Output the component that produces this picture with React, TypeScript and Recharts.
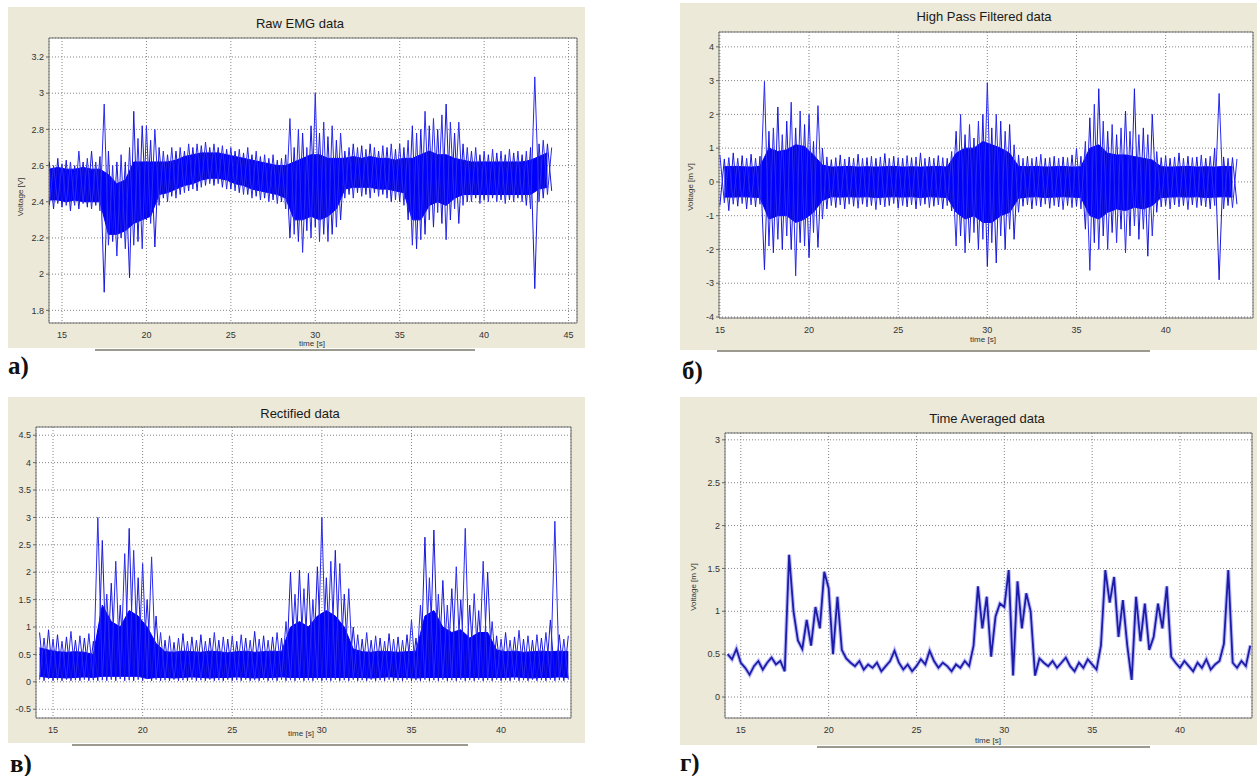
import React from "react";
import { ComposedChart, Area, Line, XAxis, YAxis, CartesianGrid, ReferenceArea } from "recharts";

// sample times (s), 0.25 s apart; every line below covers 2 s
const times = [
  14.25, 14.5, 14.75, 15, 15.25, 15.5, 15.75, 16,
  16.25, 16.5, 16.75, 17, 17.25, 17.5, 17.75, 18,
  18.25, 18.5, 18.75, 19, 19.25, 19.5, 19.75, 20,
  20.25, 20.5, 20.75, 21, 21.25, 21.5, 21.75, 22,
  22.25, 22.5, 22.75, 23, 23.25, 23.5, 23.75, 24,
  24.25, 24.5, 24.75, 25, 25.25, 25.5, 25.75, 26,
  26.25, 26.5, 26.75, 27, 27.25, 27.5, 27.75, 28,
  28.25, 28.5, 28.75, 29, 29.25, 29.5, 29.75, 30,
  30.25, 30.5, 30.75, 31, 31.25, 31.5, 31.75, 32,
  32.25, 32.5, 32.75, 33, 33.25, 33.5, 33.75, 34,
  34.25, 34.5, 34.75, 35, 35.25, 35.5, 35.75, 36,
  36.25, 36.5, 36.75, 37, 37.25, 37.5, 37.75, 38,
  38.25, 38.5, 38.75, 39, 39.25, 39.5, 39.75, 40,
  40.25, 40.5, 40.75, 41, 41.25, 41.5, 41.75, 42,
  42.25, 42.5, 42.75, 43, 43.25, 43.5, 43.75, 44,
];

// а) raw EMG [V]: min / max of each sample, dense core every 0.5 s
const rawLo = [
  2.38, 2.36, 2.39, 2.37, 2.38, 2.35, 2.38, 2.36,
  2.39, 2.37, 2.36, 2.38, 2.35, 1.9, 2.16, 2.18,
  2.1, 2.2, 2.14, 1.98, 2.16, 2.18, 2.14, 2.3,
  2.28, 2.15, 2.38, 2.42, 2.4, 2.43, 2.42, 2.44,
  2.45, 2.46, 2.47, 2.46, 2.48, 2.49, 2.5, 2.49,
  2.5, 2.48, 2.47, 2.47, 2.46, 2.45, 2.44, 2.44,
  2.42, 2.43, 2.41, 2.42, 2.4, 2.41, 2.39, 2.4,
  2.36, 2.2, 2.22, 2.18, 2.12, 2.24, 2.2, 2.26,
  2.18, 2.22, 2.18, 2.22, 2.26, 2.3, 2.42, 2.44,
  2.42, 2.45, 2.43, 2.44, 2.42, 2.45, 2.43, 2.44,
  2.42, 2.4, 2.41, 2.4, 2.38, 2.3, 2.16, 2.14,
  2.19, 2.22, 2.3, 2.26, 2.34, 2.28, 2.19, 2.3,
  2.36, 2.28, 2.38, 2.4, 2.4, 2.42, 2.39, 2.41,
  2.4, 2.42, 2.4, 2.41, 2.39, 2.41, 2.4, 2.42,
  2.4, 2.38, 2.36, 1.92, 2.4, 2.42, 2.44, 2.46,
];
const rawHi = [
  2.62, 2.6, 2.64, 2.61, 2.63, 2.62, 2.6, 2.68,
  2.62, 2.64, 2.68, 2.62, 2.65, 2.94, 2.68, 2.6,
  2.62, 2.66, 2.62, 2.7, 2.9, 2.75, 2.82, 2.82,
  2.74, 2.8, 2.7, 2.68, 2.66, 2.7, 2.68, 2.7,
  2.68, 2.72, 2.7, 2.72, 2.71, 2.73, 2.7, 2.72,
  2.7, 2.71, 2.69, 2.7, 2.68, 2.69, 2.67, 2.7,
  2.66, 2.68, 2.65, 2.66, 2.64, 2.66, 2.63, 2.64,
  2.66, 2.86, 2.7, 2.8, 2.78, 2.7, 2.82, 3.0,
  2.78, 2.84, 2.76, 2.82, 2.74, 2.78, 2.68, 2.7,
  2.72, 2.7, 2.71, 2.69, 2.72, 2.7, 2.68, 2.71,
  2.7, 2.72, 2.69, 2.72, 2.7, 2.74, 2.82, 2.78,
  2.8, 2.9, 2.82, 2.86, 2.8, 2.88, 2.94, 2.84,
  2.78, 2.84, 2.72, 2.7, 2.68, 2.7, 2.66, 2.68,
  2.66, 2.69, 2.67, 2.68, 2.66, 2.69, 2.67, 2.68,
  2.66, 2.68, 2.7, 3.09, 2.72, 2.74, 2.72, 2.7,
];
const rawCoreLo = [
  2.41, 2.41, 2.4, 2.41, 2.4, 2.4, 2.4, 2.22,
  2.22, 2.24, 2.28, 2.3, 2.32, 2.44, 2.45, 2.47,
  2.49, 2.5, 2.52, 2.53, 2.53, 2.52, 2.5, 2.49,
  2.47, 2.46, 2.45, 2.44, 2.42, 2.3, 2.3, 2.32,
  2.3, 2.32, 2.36, 2.47, 2.48, 2.48, 2.48, 2.47,
  2.47, 2.46, 2.45, 2.3, 2.3, 2.38, 2.4, 2.38,
  2.42, 2.44, 2.44, 2.44, 2.44, 2.44, 2.44, 2.44,
  2.44, 2.44, 2.47, 2.48,
];
const rawCoreHi = [
  2.58, 2.59, 2.58, 2.58, 2.59, 2.58, 2.58, 2.55,
  2.5, 2.52, 2.62, 2.62, 2.62, 2.62, 2.62, 2.63,
  2.65, 2.66, 2.67, 2.67, 2.67, 2.66, 2.65, 2.64,
  2.63, 2.62, 2.61, 2.6, 2.6, 2.62, 2.64, 2.66,
  2.66, 2.64, 2.64, 2.64, 2.65, 2.64, 2.65, 2.64,
  2.64, 2.63, 2.64, 2.64, 2.66, 2.68, 2.66, 2.66,
  2.64, 2.63, 2.62, 2.62, 2.62, 2.62, 2.62, 2.62,
  2.62, 2.63, 2.65, 2.67,
];

// б) high pass filtered [mV]
const hpLo = [
  null, null, null, -0.7, -0.62, -0.85, -0.66, -0.72,
  -0.64, -0.8, -0.68, -0.74, -0.66, -2.6, -1.9, -2.1,
  -1.7, -2.0, -1.6, -2.0, -2.78, -1.8, -1.9, -2.24,
  -1.5, -1.94, -1.1, -0.8, -0.7, -0.76, -0.68, -0.8,
  -0.66, -0.72, -0.78, -0.66, -0.74, -0.7, -0.82, -0.68,
  -0.74, -0.7, -0.64, -0.78, -0.7, -0.74, -0.68, -0.8,
  -0.7, -0.66, -0.76, -0.72, -0.68, -0.8, -0.7, -0.86,
  -1.9, -1.6, -2.1, -1.8, -1.5, -2.0, -1.7, -2.5,
  -1.8, -2.4, -1.6, -2.0, -1.4, -1.7, -0.9, -0.72,
  -0.68, -0.8, -0.7, -0.74, -0.66, -0.78, -0.7, -0.74,
  -0.82, -0.7, -0.76, -0.72, -0.8, -1.4, -2.62, -1.8,
  -2.0, -1.6, -2.0, -1.5, -1.8, -1.4, -2.1, -1.6,
  -1.3, -1.7, -1.4, -2.2, -1.6, -0.9, -0.74, -0.7,
  -0.8, -0.68, -0.74, -0.7, -0.82, -0.68, -0.76, -0.7,
  -0.74, -0.8, -0.7, -2.9, -0.8, -0.7, -0.76, -0.66,
];
const hpHi = [
  null, null, null, 0.8, 0.68, 0.72, 0.86, 0.7,
  0.78, 0.7, 0.82, 0.7, 0.76, 2.98, 1.5, 1.6,
  2.22, 1.4, 1.8, 2.36, 1.6, 2.1, 1.7, 2.0,
  1.2, 2.26, 1.0, 0.74, 0.66, 0.72, 0.8, 0.68,
  0.74, 0.7, 0.82, 0.7, 0.72, 0.76, 0.7, 0.74,
  0.84, 0.7, 0.76, 0.72, 0.7, 0.78, 0.72, 0.74,
  0.86, 0.7, 0.74, 0.7, 0.78, 0.72, 0.7, 0.9,
  1.5, 2.0, 1.4, 1.7, 1.3, 1.8, 2.0, 2.94,
  1.6, 2.0, 1.8, 1.5, 1.7, 1.1, 0.8, 0.7,
  0.76, 0.7, 0.74, 0.82, 0.7, 0.72, 0.76, 0.7,
  0.74, 0.72, 0.8, 1.0, 0.76, 1.2, 1.9, 2.3,
  2.76, 1.8, 1.5, 1.7, 1.4, 1.6, 2.1, 1.5,
  2.76, 1.4, 1.6, 1.4, 2.0, 0.9, 0.72, 0.78,
  0.7, 0.74, 0.86, 0.7, 0.76, 0.72, 0.74, 0.8,
  0.7, 0.76, 1.0, 2.62, 0.74, 0.7, 0.72, 0.68,
];
const hpCoreLo = [
  null, null, -0.45, -0.45, -0.44, -0.45, -0.46, -1.1,
  -1.0, -1.0, -1.2, -1.1, -0.9, -0.55, -0.44, -0.45,
  -0.44, -0.45, -0.44, -0.46, -0.45, -0.44, -0.45, -0.44,
  -0.46, -0.44, -0.45, -0.46, -0.9, -1.1, -1.0, -1.2,
  -1.2, -1.0, -0.9, -0.48, -0.45, -0.44, -0.46, -0.45,
  -0.44, -0.45, -0.46, -1.0, -1.1, -0.9, -0.8, -0.85,
  -0.75, -0.8, -0.7, -0.46, -0.45, -0.44, -0.45, -0.44,
  -0.46, -0.45, -0.44, -0.45,
];
const hpCoreHi = [
  null, null, 0.45, 0.46, 0.45, 0.44, 0.46, 1.0,
  0.9, 0.95, 1.1, 1.05, 0.8, 0.5, 0.44, 0.45,
  0.46, 0.44, 0.45, 0.44, 0.45, 0.46, 0.44, 0.45,
  0.44, 0.45, 0.46, 0.44, 0.85, 1.0, 1.0, 1.2,
  1.1, 1.0, 0.85, 0.46, 0.45, 0.46, 0.44, 0.45,
  0.46, 0.44, 0.45, 1.0, 1.1, 0.85, 0.8, 0.8,
  0.75, 0.7, 0.65, 0.45, 0.44, 0.45, 0.46, 0.44,
  0.45, 0.44, 0.46, 0.45,
];

// в) rectified [mV]
const rectLo = [
  0.04, 0.02, 0.05, 0.02, 0.03, 0.02, 0.04, 0.02,
  0.03, 0.02, 0.04, 0.02, 0.03, 0.02, 0.03, 0.02,
  0.04, 0.02, 0.05, 0.02, 0.03, 0.02, 0.04, 0.02,
  0.05, 0.02, 0.04, 0.02, 0.03, 0.02, 0.04, 0.02,
  0.03, 0.02, 0.04, 0.02, 0.03, 0.02, 0.04, 0.02,
  0.03, 0.02, 0.04, 0.02, 0.03, 0.02, 0.04, 0.02,
  0.03, 0.02, 0.04, 0.02, 0.03, 0.02, 0.04, 0.02,
  0.03, 0.02, 0.04, 0.02, 0.03, 0.02, 0.04, 0.02,
  0.03, 0.02, 0.04, 0.02, 0.03, 0.02, 0.04, 0.02,
  0.03, 0.02, 0.04, 0.02, 0.03, 0.02, 0.04, 0.02,
  0.03, 0.02, 0.04, 0.02, 0.03, 0.02, 0.04, 0.02,
  0.03, 0.02, 0.04, 0.02, 0.03, 0.02, 0.04, 0.02,
  0.03, 0.02, 0.04, 0.02, 0.03, 0.02, 0.04, 0.02,
  0.03, 0.02, 0.04, 0.02, 0.03, 0.02, 0.04, 0.02,
  0.03, 0.02, 0.04, 0.02, 0.03, 0.02, 0.04, null,
];
const rectHi = [
  0.9, 0.8, 0.95, 0.78, 0.86, 0.74, 0.82, 0.92,
  0.76, 0.84, 0.8, 0.88, 0.74, 3.0, 2.58, 1.6,
  1.8, 2.2, 1.4, 2.34, 2.8, 2.4, 1.9, 2.16,
  1.5, 2.28, 1.2, 0.9, 0.76, 0.84, 0.72, 0.8,
  0.88, 0.74, 0.82, 0.76, 0.86, 0.74, 0.8, 0.9,
  0.76, 0.82, 0.78, 0.84, 0.74, 0.86, 0.8, 0.76,
  0.92, 0.78, 0.84, 0.76, 0.82, 0.9, 0.8, 1.1,
  2.0, 1.6, 2.04, 1.7, 1.98, 1.5, 2.1, 3.0,
  1.9, 2.2, 2.4, 2.16, 1.6, 1.7, 1.0, 0.86,
  0.78, 0.9, 0.76, 0.84, 0.8, 0.74, 0.88, 0.78,
  0.82, 0.76, 0.86, 1.13, 0.8, 1.4, 2.64, 1.9,
  2.77, 1.6, 1.85, 1.4, 1.7, 2.1, 1.5, 2.8,
  1.4, 1.61, 1.3, 2.2, 2.0, 1.1, 0.84, 0.78,
  0.9, 0.76, 0.82, 0.94, 0.78, 0.84, 0.76, 0.86,
  0.8, 0.9, 1.13, 2.93, 0.86, 0.78, 0.84, null,
];
const rectCoreLo = [
  0.1, 0.08, 0.08, 0.07, 0.08, 0.09, 0.08, 0.1,
  0.1, 0.1, 0.1, 0.1, 0.06, 0.08, 0.08, 0.07,
  0.08, 0.09, 0.08, 0.07, 0.08, 0.08, 0.09, 0.08,
  0.07, 0.08, 0.08, 0.09, 0.08, 0.08, 0.08, 0.08,
  0.08, 0.08, 0.08, 0.08, 0.08, 0.07, 0.08, 0.09,
  0.08, 0.08, 0.07, 0.08, 0.08, 0.08, 0.08, 0.08,
  0.08, 0.08, 0.08, 0.08, 0.08, 0.09, 0.08, 0.07,
  0.08, 0.08, 0.09, 0.08,
];
const rectCoreHi = [
  0.62, 0.58, 0.55, 0.54, 0.55, 0.54, 0.5, 1.4,
  1.1, 1.0, 1.3, 1.2, 1.0, 0.7, 0.55, 0.54,
  0.56, 0.55, 0.54, 0.56, 0.55, 0.53, 0.55, 0.56,
  0.54, 0.55, 0.56, 0.55, 1.0, 1.1, 1.0, 1.2,
  1.3, 1.2, 1.0, 0.6, 0.55, 0.54, 0.56, 0.55,
  0.54, 0.55, 0.56, 1.2, 1.3, 1.0, 0.9, 0.95,
  0.8, 0.9, 0.9, 0.58, 0.55, 0.56, 0.54, 0.55,
  0.56, 0.55, 0.56, 0.55,
];

// г) time averaged [mV]
const avgV = [
  0.5, 0.44, 0.56, 0.4, 0.34, 0.26, 0.36, 0.42,
  0.32, 0.4, 0.46, 0.38, 0.42, 0.3, 1.66, 1.0,
  0.66, 0.56, 0.9, 0.6, 1.05, 0.8, 1.46, 1.27,
  0.5, 1.17, 0.55, 0.45, 0.4, 0.36, 0.42, 0.32,
  0.38, 0.34, 0.4, 0.3, 0.36, 0.42, 0.54, 0.4,
  0.32, 0.38, 0.3, 0.36, 0.44, 0.38, 0.54, 0.42,
  0.34, 0.4, 0.36, 0.3, 0.38, 0.34, 0.42, 0.36,
  0.6, 1.29, 0.8, 1.17, 0.47, 0.94, 1.09, 1.05,
  1.48, 0.25, 1.35, 0.8, 1.21, 1.0, 0.25, 0.45,
  0.4, 0.36, 0.42, 0.34, 0.4, 0.46, 0.36, 0.3,
  0.4, 0.34, 0.44, 0.38, 0.32, 0.6, 1.48, 1.1,
  1.4, 0.7, 1.13, 0.6, 0.2, 1.17, 0.65, 1.09,
  0.55, 0.7, 1.09, 0.8, 1.29, 0.47, 0.4, 0.34,
  0.42, 0.36, 0.3, 0.4, 0.34, 0.44, 0.32, 0.38,
  0.42, 0.62, 1.48, 0.4, 0.34, 0.42, 0.36, 0.6,
];

const FONT = '"Liberation Sans", Arial, sans-serif';

// two opposite-phase traces through the min/max readings, so the noise is drawn as crossing strokes
const bandRows = (lo: any[], hi: any[], coreLo: any[], coreHi: any[]) =>
  times.map((t, i) => {
    const k = i / 2;
    const core = i % 2 === 0 && coreLo[k] != null ? [coreLo[k], coreHi[k]] : null;
    const has = lo[i] != null;
    return {
      t,
      zA: has ? (i % 2 === 0 ? hi[i] : lo[i]) : null,
      zB: has ? (i % 2 === 0 ? lo[i] : hi[i]) : null,
      core,
    };
  });

const rawRows = bandRows(rawLo, rawHi, rawCoreLo, rawCoreHi);
const hpRows = bandRows(hpLo, hpHi, hpCoreLo, hpCoreHi);
const rectRows = bandRows(rectLo, rectHi, rectCoreLo, rectCoreHi);
const avgRows = times.map((t, i) => ({ t, avg: avgV[i] }));

interface PanelProps {
  box: [number, number, number, number];
  margin: { top: number; right: number };
  yWidth: number;
  xHeight: number;
  xDomain: [number, number];
  yDomain: [number, number];
  xTicks: number[];
  yTicks: number[];
  rows: any[];
  mode: "band" | "line";
  title: string;
  titlePos: [number, number];
  xLabelPos: [number, number];
  yLabel?: string;
  yLabelPos?: [number, number];
}

const centered = (x: number, y: number): React.CSSProperties => ({
  position: "absolute", left: x, top: y, transform: "translate(-50%, -50%)", whiteSpace: "nowrap",
});

const Panel: React.FC<PanelProps> = (p) => {
  const tick = { fontSize: 9, fill: "#333", fontFamily: FONT };
  return (
    <div style={{ position: "absolute", left: p.box[0], top: p.box[1], width: p.box[2], height: p.box[3], background: "#ece9d8" }}>
      <ComposedChart width={p.box[2]} height={p.box[3]} data={p.rows}
        margin={{ top: p.margin.top, right: p.margin.right, bottom: 0, left: 0 }}>
        <CartesianGrid fill="#ffffff" stroke="#858585" strokeDasharray="1 2" />
        <XAxis dataKey="t" type="number" domain={p.xDomain} ticks={p.xTicks} allowDataOverflow interval={0}
          height={p.xHeight} tickLine={false} axisLine={false} tickSize={4} tickMargin={5} tick={tick} />
        <YAxis type="number" domain={p.yDomain} ticks={p.yTicks} allowDataOverflow interval={0}
          width={p.yWidth} tickLine={{ stroke: "#666" }} axisLine={false} tickSize={3} tickMargin={2} tick={tick}
          tickFormatter={(v: number) => String(v)} />
        {p.mode === "band" && (
          <Line dataKey="zA" type="linear" stroke="#1818dc" strokeWidth={1} dot={false} activeDot={false}
            isAnimationActive={false} />
        )}
        {p.mode === "band" && (
          <Line dataKey="zB" type="linear" stroke="#2a2af0" strokeWidth={1} dot={false} activeDot={false}
            isAnimationActive={false} />
        )}
        {p.mode === "band" && (
          <Area dataKey="core" type="linear" stroke="#0000ff" strokeWidth={1} fill="#0000ff" fillOpacity={1}
            connectNulls dot={false} activeDot={false} isAnimationActive={false} />
        )}
        {p.mode === "line" && (
          <Line dataKey="avg" type="linear" stroke="#8c8cf5" strokeWidth={4} strokeOpacity={0.6} dot={false}
            activeDot={false} isAnimationActive={false} />
        )}
        {p.mode === "line" && (
          <Line dataKey="avg" type="linear" stroke="#1c1ca8" strokeWidth={1.8} dot={false} activeDot={false}
            isAnimationActive={false} />
        )}
        <ReferenceArea x1={p.xDomain[0]} x2={p.xDomain[1]} y1={p.yDomain[0]} y2={p.yDomain[1]}
          fill="none" stroke="#707070" strokeWidth={1} ifOverflow="visible" />
      </ComposedChart>
      <div style={{ ...centered(p.titlePos[0], p.titlePos[1]), fontSize: 13, color: "#1a1a1a", fontFamily: FONT }}>{p.title}</div>
      <div style={{ ...centered(p.xLabelPos[0], p.xLabelPos[1]), fontSize: 8, color: "#333", fontFamily: FONT }}>time [s]</div>
      {p.yLabel && p.yLabelPos && (
        <div style={{ ...centered(p.yLabelPos[0], p.yLabelPos[1]), transform: "translate(-50%, -50%) rotate(-90deg)", fontSize: 8, color: "#333", fontFamily: FONT }}>
          {p.yLabel}
        </div>
      )}
    </div>
  );
};

const letter = (x: number, y: number): React.CSSProperties => ({
  position: "absolute", left: x, top: y, fontFamily: '"Liberation Serif", "Times New Roman", serif',
  fontWeight: "bold", fontSize: 25, lineHeight: "26px", color: "#111",
});

const rule = (x1: number, x2: number, y: number): React.CSSProperties => ({
  position: "absolute", left: x1, top: y, width: x2 - x1, height: 2, background: "#9c9a8e",
});

export default function App() {
  return (
    <div style={{ position: "absolute", left: 0, top: 0, width: 1260, height: 776, background: "#ffffff", overflow: "hidden" }}>
      <Panel box={[8, 7, 577, 341]} margin={{ top: 31, right: 8 }} yWidth={41} xHeight={25}
        xDomain={[14.23, 45.5]} yDomain={[1.73, 3.305]}
        xTicks={[15, 20, 25, 30, 35, 40, 45]} yTicks={[1.8, 2, 2.2, 2.4, 2.6, 2.8, 3, 3.2]}
        rows={rawRows} mode="band" title="Raw EMG data" titlePos={[292, 16]} xLabelPos={[304, 336]}
        yLabel="Voltage [V]" yLabelPos={[12, 190]} />
      <Panel box={[680, 3, 577, 347]} margin={{ top: 29, right: 4 }} yWidth={39} xHeight={32}
        xDomain={[14.95, 44.9]} yDomain={[-4.03, 4.44]}
        xTicks={[15, 20, 25, 30, 35, 40]} yTicks={[-4, -3, -2, -1, 0, 1, 2, 3, 4]}
        rows={hpRows} mode="band" title="High Pass Filtered data" titlePos={[304, 13]} xLabelPos={[303, 336]}
        yLabel="Voltage [m V]" yLabelPos={[10, 184]} />
      <Panel box={[8, 397, 577, 346]} margin={{ top: 30, right: 14 }} yWidth={28} xHeight={25}
        xDomain={[14.05, 43.9]} yDomain={[-0.66, 4.65]}
        xTicks={[15, 20, 25, 30, 35, 40]} yTicks={[-0.5, 0, 0.5, 1, 1.5, 2, 2.5, 3, 3.5, 4, 4.5]}
        rows={rectRows} mode="band" title="Rectified data" titlePos={[292, 16]} xLabelPos={[293, 336]} />
      <Panel box={[680, 397, 577, 348]} margin={{ top: 36, right: 5 }} yWidth={45} xHeight={27}
        xDomain={[14.1, 44.1]} yDomain={[-0.245, 3.08]}
        xTicks={[15, 20, 25, 30, 35, 40]} yTicks={[0, 0.5, 1, 1.5, 2, 2.5, 3]}
        rows={avgRows} mode="line" title="Time Averaged data" titlePos={[307, 21]} xLabelPos={[308, 343]}
        yLabel="Voltage [m V]" yLabelPos={[13, 190]} />
      <div style={rule(95, 475, 349)} />
      <div style={rule(717, 1150, 350)} />
      <div style={rule(72, 468, 744)} />
      <div style={rule(817, 1150, 746)} />
      <div style={letter(8, 353)}>а)</div>
      <div style={letter(682, 358)}>б)</div>
      <div style={letter(10, 751)}>в)</div>
      <div style={letter(680, 750)}>г)</div>
    </div>
  );
}
